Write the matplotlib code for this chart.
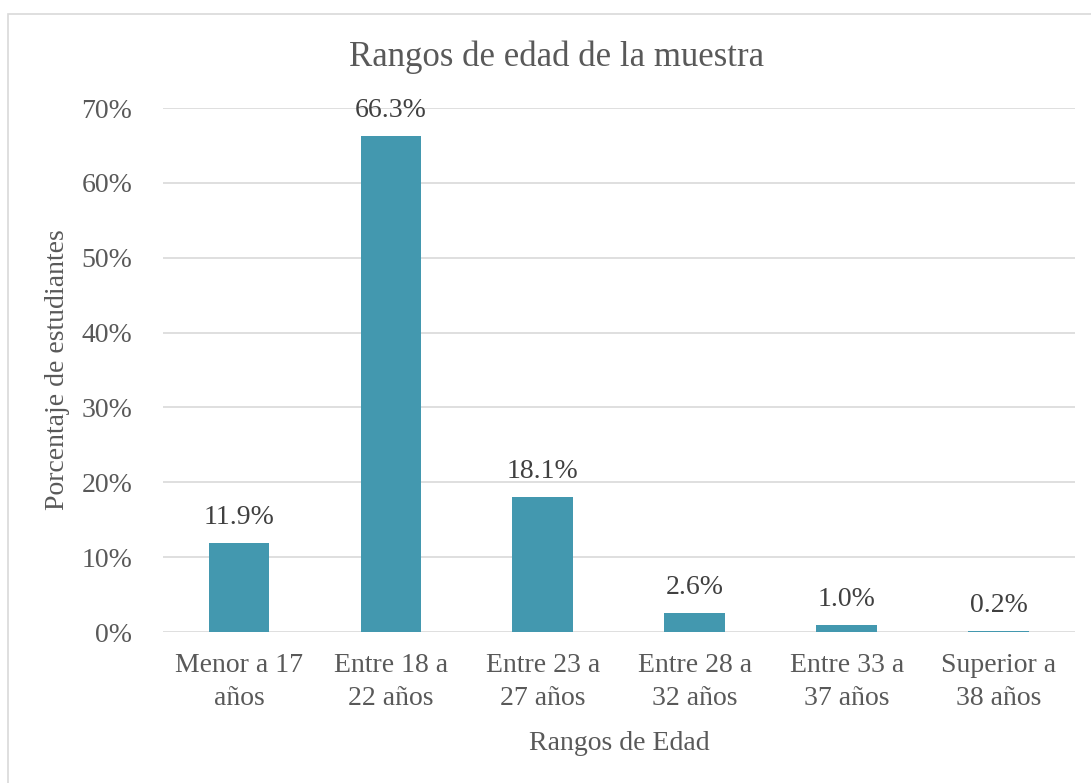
import matplotlib.pyplot as plt
import matplotlib.patches as mpatches
import numpy as np

categories = ["Menor a 17\naños", "Entre 18 a\n22 años", "Entre 23 a\n27 años",
              "Entre 28 a\n32 años", "Entre 33 a\n37 años", "Superior a\n38 años"]
values = [11.9, 66.3, 18.1, 2.6, 1.0, 0.2]
yticks = [0, 10, 20, 30, 40, 50, 60, 70]

plt.rcParams['font.family'] = ['Liberation Serif', 'DejaVu Serif']
text_color = '#595959'

fig = plt.figure(figsize=(10.91, 7.83), dpi=100)
ax = fig.add_axes([0.1494, 0.1928, 0.8356, 0.6692])

x = np.arange(len(categories))
ax.bar(x, values, width=0.4, color='#4398AF', zorder=3)
for xi, v in zip(x, values):
    ax.text(xi, v + 1.7, f"{v:.1f}%", ha='center', va='bottom', fontsize=20, color='#404040')

ax.set_xlim(-0.5, len(categories) - 0.5)
ax.set_ylim(0, 70)
ax.set_yticks(yticks)
ax.set_yticklabels([f"{t}%" for t in yticks])
ax.set_xticks(x)
ax.set_xticklabels(categories, linespacing=1.45)
ax.tick_params(axis='both', length=0, labelsize=20, labelcolor=text_color)
ax.tick_params(axis='y', pad=22)
ax.tick_params(axis='x', pad=15)
ax.grid(axis='y', color='#D9D9D9', linewidth=1.2, zorder=0)
for s in ax.spines.values():
    s.set_visible(False)

fig.text(557 / 1091, 1 - 57 / 783, "Rangos de edad de la muestra", fontsize=25,
         color=text_color, ha='center', va='center')
ax.set_xlabel("Rangos de Edad", fontsize=20, color=text_color, labelpad=14)
ax.set_ylabel("Porcentaje de estudiantes", fontsize=20, color=text_color, labelpad=8)

fig.patches.append(mpatches.Rectangle((8 / 1091, -0.01), 1.0, 1 - 14 / 783 + 0.01,
                                      transform=fig.transFigure, fill=False,
                                      edgecolor='#D9D9D9', linewidth=1.2))

fig.savefig("out.png", dpi=100)
